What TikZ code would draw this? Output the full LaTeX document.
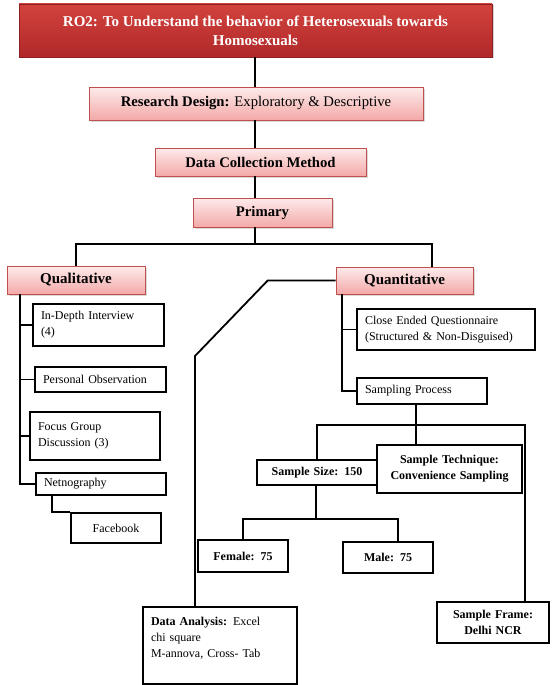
\documentclass[tikz,border=0pt]{standalone}
\usepackage{fontspec}
\setmainfont{Liberation Serif}
\usetikzlibrary{positioning,calc,shadows}
\definecolor{hdrtop}{HTML}{D2433D}
\definecolor{hdrbot}{HTML}{B0282A}
\definecolor{pnktop}{HTML}{FDEBEB}
\definecolor{pnkbot}{HTML}{F3A9A8}
\definecolor{pnkline}{HTML}{C0504D}

\begin{document}
\begin{tikzpicture}[x=1pt, y=-1pt,
    hdr/.style={draw=hdrbot!80!black, line width=0.6pt, top color=hdrtop, bottom color=hdrbot, text=white, align=center, font=\fontsize{15}{19}\selectfont\bfseries, drop shadow={shadow xshift=1.5pt, shadow yshift=-1.5pt, opacity=0.35}},
    pnk/.style={draw=pnkline, line width=0.6pt, top color=pnktop, bottom color=pnkbot, align=center, font=\fontsize{14.7}{17}\selectfont, drop shadow={shadow xshift=1.5pt, shadow yshift=-1.5pt, opacity=0.3}},
    leaf/.style={draw, line width=1.6pt, fill=white, align=left, inner xsep=8pt, font=\fontsize{12}{16}\selectfont},
    cleaf/.style={leaf, align=center},
    ln/.style={line width=1.8pt}
]
\useasboundingbox (0,0) rectangle (552,685);

\node[hdr, minimum width=473pt, minimum height=53pt] (ro) at (255.5,30.5) {RO2: To Understand the behavior of Heterosexuals towards\\Homosexuals};
\node[pnk, minimum width=334pt, minimum height=33pt] (design) at (256,103.5) {\textbf{Research Design:} Exploratory \& Descriptive};
\node[pnk, minimum width=211pt, minimum height=28pt] (dcm) at (260.5,162) {\textbf{Data Collection Method}};
\node[pnk, minimum width=139pt, minimum height=29pt] (prim) at (262.5,212.5) {\textbf{Primary}};
\node[pnk, minimum width=138pt, minimum height=28pt, font=\fontsize{15}{17}\selectfont] (qual) at (76,280) {\textbf{Qualitative}};
\node[pnk, minimum width=137pt, minimum height=27pt, font=\fontsize{15}{17}\selectfont] (quant) at (404.5,280.5) {\textbf{Quantitative}};

\node[leaf, text width=115pt, minimum height=42pt] (idi) at (98.5,325) {In-Depth Interview\\(4)};
\node[leaf, text width=115pt, minimum height=25pt] (obs) at (100.5,379.5) {Personal Observation};
\node[leaf, text width=114pt, minimum height=48pt] (fgd) at (95,436) {Focus Group\\Discussion (3)};
\node[leaf, text width=114pt, minimum height=22pt] (net) at (101,484) {Netnography};
\node[cleaf, text width=74pt, minimum height=30pt] (fb) at (116,528) {Facebook};

\node[leaf, text width=162pt, minimum height=41pt] (ceq) at (446,329.5) {Close Ended Questionnaire\\(Structured \& Non-Disguised)};
\node[leaf, text width=114pt, minimum height=26pt] (samp) at (422,391) {Sampling Process};
\node[cleaf, text width=104pt, minimum height=25pt] (size) at (317,472.5) {\textbf{Sample Size: 150}};
\node[cleaf, text width=129pt, minimum height=48pt] (tech) at (449.5,469) {\textbf{Sample Technique:}\\\textbf{Convenience Sampling}};
\node[cleaf, text width=74pt, minimum height=32pt] (fem) at (243,556) {\textbf{Female:\enspace75}};
\node[cleaf, text width=74pt, minimum height=31pt] (male) at (388,557.5) {\textbf{Male:\enspace75}};
\node[cleaf, text width=96pt, minimum height=41pt] (frame) at (493,622.5) {\textbf{Sample Frame:}\\\textbf{Delhi NCR}};
\node[leaf, text width=138pt, minimum height=77pt] (da) at (220,645.5) {\textbf{Data Analysis:} Excel\\chi square\\M-annova, Cross- Tab\\\mbox{}};

\coordinate (split) at (255,244);
\coordinate (qtop) at (432,244);
\coordinate (qlbus) at (20,294);
\coordinate (qnbus) at (342,294);
\coordinate (sbus) at (416,425);
\coordinate (fr) at (525,425);
\coordinate (gbus) at (316,519);
\coordinate (mbus) at (398,519);
\coordinate (bend) at (195,356);

\draw[ln] (ro.south -| split) -- (design.north -| split);
\draw[ln] (design.south -| split) -- (dcm.north -| split);
\draw[ln] (dcm.south -| split) -- (prim.north -| split);
\draw[ln] (prim.south -| split) -- (split);
\draw[ln] (qual.north) |- (qtop) -- (qtop |- quant.north);

\draw[ln] (qlbus) |- (net.west);
\foreach \n in {idi,obs,fgd}
    \draw[ln] (qlbus |- \n.west) -- (\n.west);
\draw[ln] ([xshift=17pt]net.south west) |- (fb.north west);

\draw[ln] (qnbus) |- (samp.west);
\draw[ln] (qnbus |- ceq.west) -- (ceq.west);
\draw[ln] (samp.south -| sbus) -- (sbus) -- (tech.north -| sbus);
\draw[ln] (size.north) |- (fr) -- (fr |- frame.north);
\draw[ln] (size.south -| gbus) -- (gbus);
\draw[ln] (fem.north) |- (mbus) -- (mbus |- male.north);
\draw[ln] (quant.west) -- ++(-68,0) -- (bend) -- (bend |- da.north);
\end{tikzpicture}
\end{document}
